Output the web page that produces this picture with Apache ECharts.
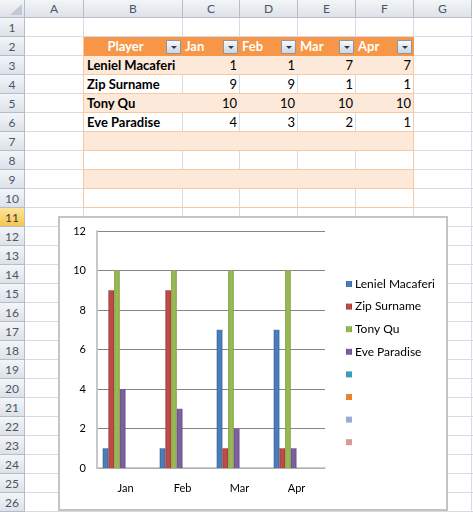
<!DOCTYPE html>
<html lang="en">

<head>
    <meta charset="UTF-8">
    <title>Player chart</title>
    <script src="https://cdn.jsdelivr.net/npm/echarts@6/dist/echarts.min.js"></script>
    <style>
        body {
            margin: 0;
            padding: 0;
            width: 473px;
            height: 512px;
            overflow: hidden;
            background: #fff;
            font-family: Lato, "Open Sans", sans-serif;
        }

        #sheet {
            position: absolute;
            left: 0;
            top: 0;
            width: 473px;
            height: 512px;
        }

        .c {
            position: absolute;
            box-sizing: border-box;
            white-space: nowrap;
            overflow: visible;
        }

        .hd {
            background: linear-gradient(#f3f5f8, #dde2e9);
            border-right: 1px solid #b6bdc8;
            border-bottom: 1px solid #b6bdc8;
            color: #4a5566;
            font-size: 12px;
            text-align: center;
            line-height: 18px;
        }

        .btn {
            position: absolute;
            width: 15px;
            height: 14px;
            box-sizing: border-box;
            border: 1px solid #8b96a8;
            border-radius: 1px;
            background: linear-gradient(#f7f8fa, #cfd5de);
        }

        .btn:after {
            content: "";
            position: absolute;
            left: 4px;
            top: 5px;
            border-left: 3px solid transparent;
            border-right: 3px solid transparent;
            border-top: 3px solid #2b3a55;
        }

        #chartBox {
            position: absolute;
            left: 58px;
            top: 216px;
            width: 390px;
            height: 295px;
            box-sizing: border-box;
            border: 2px solid #c4c4c4;
            background: #fff;
        }

        #chartContainer {
            width: 386px;
            height: 291px;
        }
    </style>
</head>

<body>
    <div id="sheet"></div>
    <div id="chartBox">
        <div id="chartContainer"></div>
    </div>

    <script>
        // 表格和图表的数据
        var categories = ['Jan', 'Feb', 'Mar', 'Apr'];
        var players = ['Leniel Macaferi', 'Zip Surname', 'Tony Qu', 'Eve Paradise'];
        var lenielValues = [1, 1, 7, 7];
        var zipValues = [9, 9, 1, 1];
        var tonyValues = [10, 10, 10, 10];
        var eveValues = [4, 3, 2, 1];
        var columnLetters = ['A', 'B', 'C', 'D', 'E', 'F', 'G'];
        var rowCount = 26;

        var playerValues = [lenielValues, zipValues, tonyValues, eveValues];

        // 网格尺寸
        var colX = [0, 25, 84, 183, 240, 298, 356, 414, 472];
        var headH = 18;
        var rowH = 19;
        var rowTop = r => headH + (r - 1) * rowH;

        var sheet = document.getElementById('sheet');

        function cell(x, y, w, h, css, text) {
            var d = document.createElement('div');
            d.className = 'c';
            d.style.left = x + 'px';
            d.style.top = y + 'px';
            d.style.width = w + 'px';
            d.style.height = h + 'px';
            if (css) d.style.cssText += css;
            if (text !== undefined) d.textContent = text;
            sheet.appendChild(d);
            return d;
        }

        // 网格线
        for (var r = 1; r <= rowCount; r++) {
            cell(25, rowTop(r), 448, rowH, 'border-bottom:1px solid #d5dce8;');
        }
        for (var i = 2; i < colX.length; i++) {
            cell(colX[i] - 1, headH, 1, 512 - headH, 'background:#d5dce8;');
        }

        // 表格区域 B2:F10
        var tLeft = colX[2], tRight = colX[7];
        for (var r = 3; r <= 10; r++) {
            if (r % 2 === 1) {
                cell(tLeft, rowTop(r) - 1, tRight - tLeft, rowH + 1,
                    'background:#fde9d9;border-top:1px solid #fbc79f;border-bottom:1px solid #fbc79f;');
            }
        }
        cell(tLeft - 1, rowTop(2), 1, rowTop(11) - rowTop(2), 'background:#fbc79f;');
        cell(tRight - 1, rowTop(2), 1, rowTop(11) - rowTop(2), 'background:#fbc79f;');
        cell(tLeft, rowTop(11) - 1, tRight - tLeft, 1, 'background:#fbc79f;');

        // 表头
        cell(tLeft, rowTop(2), tRight - tLeft, rowH, 'background:#f79646;');
        var headers = ['Player'].concat(categories);
        headers.forEach((h, k) => {
            var x0 = colX[k + 2], x1 = colX[k + 3];
            var css = 'color:#fff;font-weight:bold;font-size:13px;line-height:19px;';
            if (k === 0) {
                cell(x0, rowTop(2), x1 - x0 - 16, rowH, css + 'text-align:center;', h);
            } else {
                cell(x0 + 2, rowTop(2), x1 - x0, rowH, css, h);
            }
            var b = document.createElement('div');
            b.className = 'btn';
            b.style.left = (x1 - 17) + 'px';
            b.style.top = (rowTop(2) + 3) + 'px';
            sheet.appendChild(b);
        });

        // 数据行
        players.forEach((p, k) => {
            var r = k + 3;
            var css = 'font-size:13px;line-height:19px;color:#000;';
            cell(colX[2] + 3, rowTop(r), colX[3] - colX[2], rowH, css + 'font-weight:bold;', p);
            playerValues[k].forEach((v, j) => {
                var x0 = colX[j + 3], x1 = colX[j + 4];
                cell(x0, rowTop(r), x1 - x0 - 3, rowH, css + 'text-align:right;', v);
            });
        });

        // 列标题和行号
        cell(0, 0, 25, headH, '', '').className += ' hd';
        cell(10, 4, 0, 0, 'border-left:12px solid transparent;border-bottom:11px solid #c2c8d1;');
        columnLetters.forEach((l, k) => {
            cell(colX[k + 1], 0, colX[k + 2] - colX[k + 1], headH, '', l).className += ' hd';
        });
        for (var r = 1; r <= rowCount; r++) {
            var d = cell(0, rowTop(r), 25, rowH, 'line-height:19px;', r);
            d.className += ' hd';
            if (r === 11) {
                d.style.background = 'linear-gradient(#fde59a, #f8c54e)';
                d.style.color = '#3a3a3a';
            }
        }

        // 初始化EChart
        var myChart = echarts.init(document.getElementById('chartContainer'));

        function bar(base, edge) {
            return {
                type: 'linear', x: 0, y: 0, x2: 1, y2: 0,
                colorStops: [
                    { offset: 0, color: edge },
                    { offset: 0.3, color: base },
                    { offset: 0.7, color: base },
                    { offset: 1, color: edge }
                ]
            };
        }

        var seriesColors = [
            bar('#4a7ebb', '#3a659b'),
            bar('#be4b48', '#9e3b38'),
            bar('#98b954', '#80a040'),
            bar('#7d60a0', '#664c88'),
            '#3c9cbd', '#e5852f', '#95add4', '#d49a95'
        ];
        // 空行（第7到10行）也是系列，只在图例里显示色块
        var seriesNames = players.concat([' ', '  ', '   ', '    ']);
        var seriesData = playerValues.concat([[], [], [], []]);

        var dataSeries = seriesNames.map((name, k) => ({
            name: name,
            type: 'bar',
            data: seriesData[k],
            barGap: '0%',
            barCategoryGap: '20%',
            itemStyle: { color: seriesColors[k] },
            silent: true
        }));

        myChart.setOption({
            animation: false,
            textStyle: { fontFamily: 'Lato, "Open Sans", sans-serif' },
            legend: {
                orient: 'vertical',
                left: 286,
                top: 60,
                padding: 0,
                icon: 'rect',
                itemWidth: 6,
                itemHeight: 6,
                itemGap: 10.6,
                textStyle: { fontSize: 12, color: '#000', padding: [0, 0, 0, -2] },
                data: seriesNames
            },
            grid: {
                left: 37,
                top: 13,
                width: 228,
                height: 237
            },
            xAxis: {
                type: 'category',
                data: categories,
                axisLine: { lineStyle: { color: '#bdbdbd', width: 1.5 } },
                axisTick: { length: 4, lineStyle: { color: '#9a9a9a' } },
                axisLabel: { fontSize: 11, color: '#000', margin: 15 }
            },
            yAxis: {
                type: 'value',
                min: 0,
                max: 12,
                interval: 2,
                axisLine: { show: true, lineStyle: { color: '#c8c8c8', width: 2 } },
                axisTick: { show: false },
                axisLabel: { fontSize: 11, color: '#000', margin: 11 },
                splitLine: { lineStyle: { color: '#868686', width: 1 } }
            },
            series: dataSeries
        });
    </script>
</body>

</html>
